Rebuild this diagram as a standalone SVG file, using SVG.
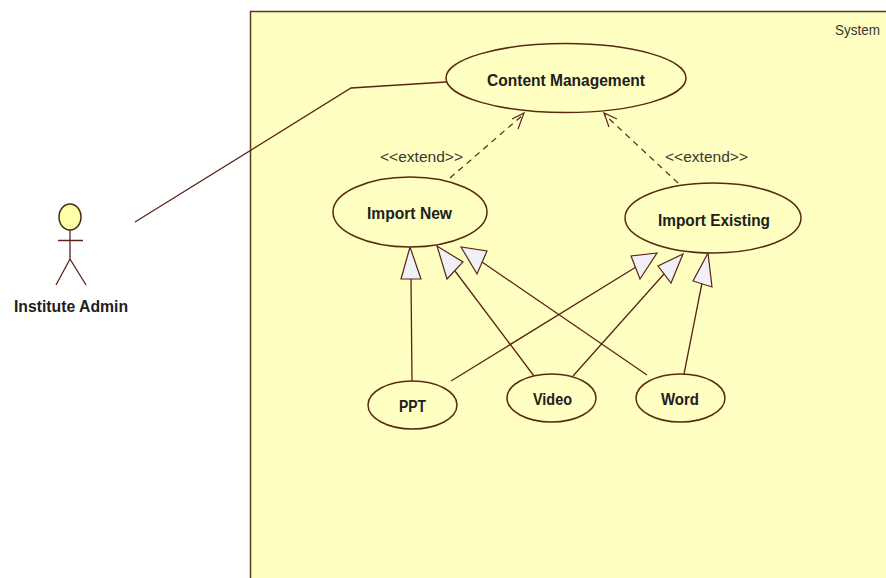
<svg xmlns="http://www.w3.org/2000/svg" width="886" height="578" viewBox="0 0 886 578">
<style>
.l{fill:none;stroke:#5a2418;stroke-width:1.3}
.uc{fill:#ffffc2;stroke:#5a2a10;stroke-width:1.5}
.tri{fill:#f0f0f6;stroke:#5a2418;stroke-width:1.2;stroke-linejoin:miter}
.d{fill:none;stroke:#4a2a18;stroke-width:1.2;stroke-dasharray:6 5}
.o{fill:none;stroke:#5a2418;stroke-width:1.2}
text{font-family:"Liberation Sans","Open Sans",sans-serif;fill:#20201c}
.b{font-weight:700;font-size:16px}
.n{font-size:15px;fill:#383830}
</style>
<rect width="886" height="578" fill="#fff"/>
<g id="system">
<rect x="250.5" y="11.5" width="645" height="580" fill="#ffffc2" stroke="#5a3a1a" stroke-width="1.5"/>
<text class="n" x="835" y="35" textLength="45" lengthAdjust="spacingAndGlyphs">System</text>
</g>
<g id="connectors">
<polyline class="l" points="135,222 351,88 446,82"/>
<path class="d" d="M450,178L524,114"/>
<path class="o" d="M512,119L524,113L518,129"/>
<path class="d" d="M678,183L604,114"/>
<path class="o" d="M617,119L604,113L609,127"/>
<text class="n" x="380" y="162" textLength="83" lengthAdjust="spacingAndGlyphs">&lt;&lt;extend&gt;&gt;</text>
<text class="n" x="665" y="162" textLength="83" lengthAdjust="spacingAndGlyphs">&lt;&lt;extend&gt;&gt;</text>
<path class="l" d="M412,381L411,279M455,271L534,376M482,262L647,375M636,267L451,381M664,274L573,376M702,283L684,374"/>
<polygon class="tri" points="410,247 401,279 421,279"/>
<polygon class="tri" points="437,246 447,279 463,262"/>
<polygon class="tri" points="461,247 477,274 487,251"/>
<polygon class="tri" points="657,253 631,256 640,279"/>
<polygon class="tri" points="683,254 658,266 671,283"/>
<polygon class="tri" points="708,253 693,281 712,287"/>
</g>
<g id="actor">
<ellipse cx="70" cy="217" rx="11" ry="13" fill="#ffffa8" stroke="#4a2a10" stroke-width="1.5"/>
<path class="l" d="M70,230V259M58,240.5H83M70,259L56,285M70,259L86,285"/>
<text class="b" x="14" y="312" textLength="114" lengthAdjust="spacingAndGlyphs">Institute Admin</text>
</g>
<g id="content-management">
<ellipse class="uc" cx="566" cy="78" rx="120" ry="34.500"/>
<text class="b" x="487" y="86" textLength="158" lengthAdjust="spacingAndGlyphs">Content Management</text>
</g>
<g id="import-new">
<ellipse class="uc" cx="410" cy="212" rx="77" ry="35"/>
<text class="b" x="367" y="219" textLength="85" lengthAdjust="spacingAndGlyphs">Import New</text>
</g>
<g id="import-existing">
<ellipse class="uc" cx="713" cy="218" rx="88" ry="35"/>
<text class="b" x="658" y="226" textLength="112" lengthAdjust="spacingAndGlyphs">Import Existing</text>
</g>
<g id="ppt">
<ellipse class="uc" cx="412.500" cy="405" rx="44.500" ry="24"/>
<text class="b" x="399" y="412" textLength="27" lengthAdjust="spacingAndGlyphs">PPT</text>
</g>
<g id="video">
<ellipse class="uc" cx="551.500" cy="398" rx="44.500" ry="24"/>
<text class="b" x="533" y="405" textLength="39" lengthAdjust="spacingAndGlyphs">Video</text>
</g>
<g id="word">
<ellipse class="uc" cx="680.500" cy="398" rx="44.500" ry="24"/>
<text class="b" x="661" y="405" textLength="38" lengthAdjust="spacingAndGlyphs">Word</text>
</g>
</svg>
